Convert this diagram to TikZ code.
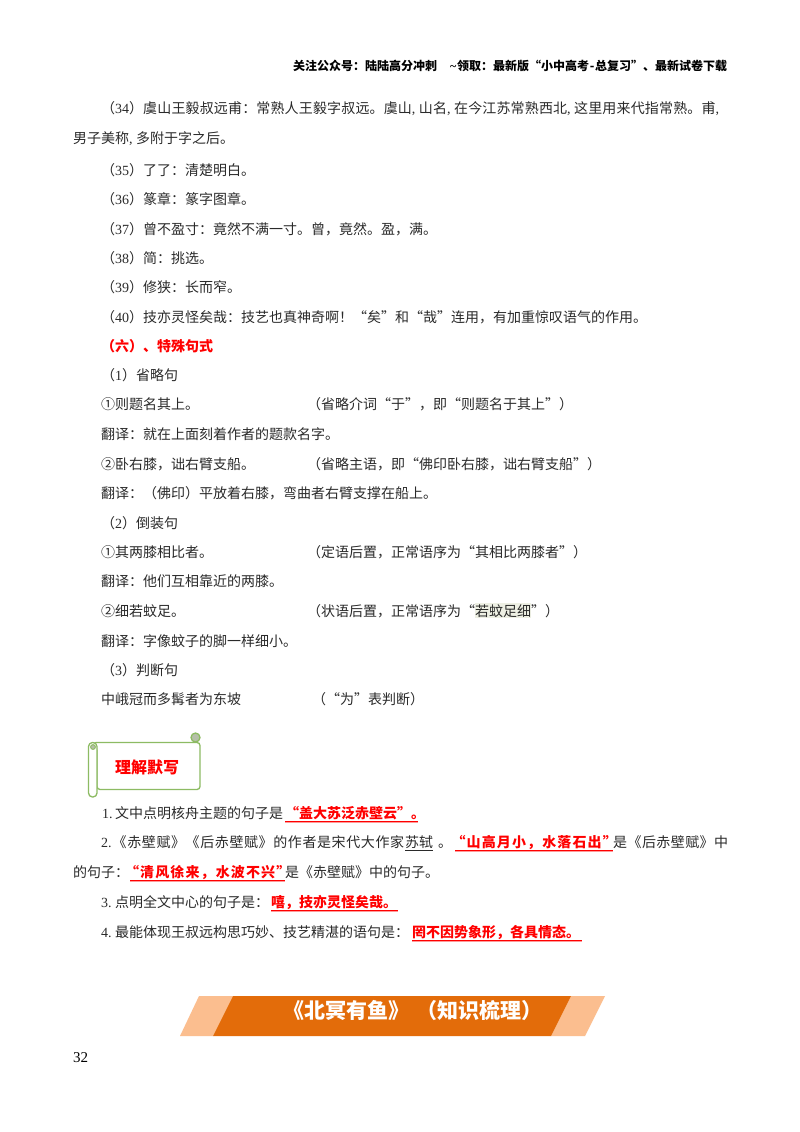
\documentclass[tikz,border=0pt]{standalone}
\usepackage{fontspec}
\setmainfont{Noto Sans CJK SC}
\newfontfamily\latfont{Liberation Serif}
\newcommand{\lat}[1]{{\latfont #1}}
\newcommand{\hc}{\makebox[7pt][l]{\latfont ,}}
\newcommand{\wide}[1]{\addfontfeature{LetterSpace=#1}}
\definecolor{bodyink}{HTML}{2A2A2A}
\definecolor{scrollgreen}{HTML}{8DBB63}
\definecolor{scrollgrey}{HTML}{B5BFA8}
\definecolor{bannerdark}{HTML}{E36C0A}
\definecolor{bannerlight}{HTML}{FBBE8F}
\definecolor{markbg}{HTML}{EEF0E4}
\definecolor{pinkrule}{HTML}{FF9A9A}
\tikzset{
  txt/.style={anchor=west,inner sep=0pt,yshift=-1.5pt,font=\fontsize{14}{16}\selectfont,text=bodyink,text height=12pt,text depth=3pt},
  redtxt/.style={txt,text=red,font=\fontsize{14}{16}\selectfont\bfseries},
  headtxt/.style={anchor=west,inner sep=0pt,yshift=-1pt,font=\fontsize{12}{14}\selectfont\bfseries,text=black},
  redrule/.style={draw=red,line width=1pt},
  pinkline/.style={draw=pinkrule,line width=.8pt},
  inkrule/.style={draw=bodyink,line width=.8pt},
  scrollline/.style={draw=scrollgreen,line width=1.3pt,line join=round}
}
\begin{document}
\begin{tikzpicture}[x=1pt,y=-1pt]
\useasboundingbox (0,0) rectangle (800,1132);
\fill[white] (0,0) rectangle (800,1132);
\node[headtxt] (head) at (293,65) {关注公众号：陆陆高分冲刺\hspace{13pt}\makebox[7pt][l]{\lat{\textasciitilde}}领取：最新版“小中高考\makebox[6pt]{-}总复习”、最新试卷下载};
\node[txt] (a1) at (101,107) {（\lat{34}）{\wide{1.1}虞山王毅叔远甫：常熟人王毅字叔远。虞山\hc 山名\hc 在今江苏常熟西北\hc 这里用来代指常熟。甫\hc}};
\node[txt] (a2) at (73,137) {男子美称\hc 多附于字之后。};
\node[txt] (a3) at (101,169) {（\lat{35}）了了：清楚明白。};
\node[txt] (a4) at (101,198) {（\lat{36}）篆章：篆字图章。};
\node[txt] (a5) at (101,228) {（\lat{37}）曾不盈寸：竟然不满一寸。曾，竟然。盈，满。};
\node[txt] (a6) at (101,257) {（\lat{38}）简：挑选。};
\node[txt] (a7) at (101,286) {（\lat{39}）修狭：长而窄。};
\node[txt] (a8) at (101,316) {（\lat{40}）技亦灵怪矣哉：技艺也真神奇啊！“矣”和“哉”连用，有加重惊叹语气的作用。};
\node[redtxt] (b0) at (101,345) {（六）、特殊句式};
\node[txt] (b1) at (101,374) {（\lat{1}）省略句};
\node[txt] (b2) at (101,403) {①则题名其上。};
\node[txt] (b2n) at (307,403) {（省略介词“于”，即“则题名于其上”）};
\node[txt] (b3) at (101,433) {翻译：就在上面刻着作者的题款名字。};
\node[txt] (b4) at (101,463) {②卧右膝，诎右臂支船。};
\node[txt] (b4n) at (307,463) {（省略主语，即“佛印卧右膝，诎右臂支船”）};
\node[txt] (b5) at (101,492) {翻译：（佛印）平放着右膝，弯曲者右臂支撑在船上。};
\node[txt] (b6) at (101,522) {（\lat{2}）倒装句};
\node[txt] (b7) at (101,551) {①其两膝相比者。};
\node[txt] (b7n) at (307,551) {（定语后置，正常语序为“其相比两膝者”）};
\node[txt] (b8) at (101,580) {翻译：他们互相靠近的两膝。};
\node[txt] (b9) at (101,610) {②细若蚊足。};
\fill[markbg] (475,603) rectangle (531,618);
\node[txt] (b9n) at (307,610) {（状语后置，正常语序为“若蚊足细”）};
\node[txt] (b10) at (101,640) {翻译：字像蚊子的脚一样细小。};
\node[txt] (b11) at (101,669) {（\lat{3}）判断句};
\node[txt] (b12) at (101,698) {中峨冠而多髯者为东坡};
\node[txt] (b12n) at (312,698) {（“为”表判断）};
% scroll
\draw[scrollline,fill=scrollgrey] (195.5,737.5) circle (4.5pt);
\draw[scrollline,fill=white,rounded corners=3pt] (93,742.5) -- (200,742.5) -- (200,789.5) -- (97,789.5) -- (97,748) -- cycle;
\draw[scrollline,fill=white,rounded corners=4pt] (88.5,742.5) rectangle (97,797);
\draw[scrollline,line width=1pt,fill=scrollgrey] (93,747) circle (2.4pt);
\node[inner sep=0pt,text=red,font=\fontsize{16}{18}\selectfont\bfseries] (scrolltitle) at (147,767) {理解默写};
% answers
\node[txt] (c1) at (102,812) {\lat{1.}\hspace{2.5pt}文中点明核舟主题的句子是};
\node[redtxt] (c1r) at (285,812) {\makebox[133pt][l]{“盖大苏泛赤壁云”。}};
\node[txt] (c2) at (101,841) {\lat{2.}\hspace{1pt}{\wide{4.3}《赤壁赋》《后赤壁赋》的作者是宋代大作家}};
\node[txt] (c2s) at (405,841) {苏轼};
\node[txt] (c2d) at (438,841) {。};
\node[redtxt] (c2r) at (455,841) {\makebox[158pt]{\wide{8}“山高月小，水落石出”}};
\node[txt] (c2e) at (613,841) {{\wide{3}是《后赤壁赋》中}};
\node[txt] (c3) at (73,871) {的句子：};
\node[redtxt] (c3r) at (130,871) {\makebox[155pt]{\wide{8}“清风徐来，水波不兴”}};
\node[txt] (c3e) at (285,871) {是《赤壁赋》中的句子。};
\node[txt] (c4) at (101,901) {\lat{3.}\hspace{3.5pt}点明全文中心的句子是：};
\node[redtxt] (c4r) at (271,901) {\makebox[127pt][l]{嘻，技亦灵怪矣哉。}};
\node[txt] (c5) at (101,931) {\lat{4.}\hspace{3.5pt}最能体现王叔远构思巧妙、技艺精湛的语句是：};
\node[redtxt] (c5r) at (412,931) {\makebox[170pt][l]{罔不因势象形，各具情态。}};
\foreach \n in {c1r,c2r,c3r,c4r,c5r}{
  \draw[pinkline] ([yshift=-1pt]\n.south west) -- ([yshift=-1pt]\n.south east);
  \draw[redrule] (\n.south west) -- (\n.south east);
}
\draw[inkrule] (c2s.south west) -- (c2s.south east);
% banner
\fill[bannerlight] (180,1036) -- (199,996) -- (233,996) -- (213,1036) -- cycle;
\fill[bannerlight] (551,1036) -- (571,996) -- (605,996) -- (585,1036) -- cycle;
\fill[bannerdark] (213,1036) -- (233,996) -- (571,996) -- (551,1036) -- cycle;
\node[anchor=west,inner sep=0pt,text=white,font=\fontsize{21}{24}\selectfont\bfseries] (bannertitle) at (283,1010) {《北冥有鱼》\hspace{7pt}（知识梳理）};
\node[anchor=west,inner sep=0pt,font=\fontsize{15}{17}\selectfont\latfont,text=black] (pageno) at (73,1058) {32};
\end{tikzpicture}
\end{document}
